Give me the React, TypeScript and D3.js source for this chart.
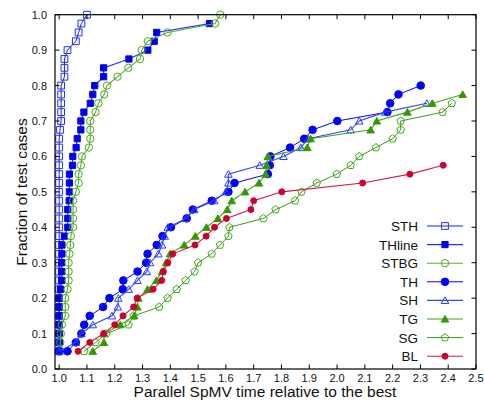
import React from 'react';
import * as d3 from 'd3';

// data: [time relative to best, fraction of test cases]
const sth: [number, number][] = [
  [1.0, 0.05], [1.0, 0.075], [1.0, 0.1], [1.0, 0.125], [1.0, 0.15], [1.0, 0.175], [1.0, 0.2],
  [1.0, 0.225], [1.0, 0.25], [1.0, 0.275], [1.0, 0.3], [1.0, 0.325], [1.0, 0.35], [1.0, 0.375],
  [1.0, 0.4], [1.0, 0.425], [1.0, 0.45], [1.0, 0.475], [1.0, 0.5], [1.0, 0.525], [1.0, 0.55],
  [1.0, 0.575], [1.0, 0.6], [1.0, 0.625], [1.0, 0.65], [1.003, 0.675], [1.007, 0.7], [1.007, 0.725],
  [1.007, 0.75], [1.007, 0.775], [1.007, 0.8], [1.019, 0.825], [1.019, 0.85], [1.019, 0.875],
  [1.03, 0.9], [1.06, 0.925], [1.07, 0.95], [1.08, 0.975], [1.1, 1.0],
];
const thline: [number, number][] = [
  [1.0, 0.05], [1.0, 0.075], [1.0, 0.1], [1.0, 0.125], [1.0, 0.15], [1.0, 0.175], [1.0, 0.2],
  [1.005, 0.225], [1.009, 0.25], [1.009, 0.275], [1.009, 0.3], [1.01, 0.325], [1.01, 0.35],
  [1.019, 0.375], [1.031, 0.4], [1.031, 0.425], [1.031, 0.45], [1.036, 0.475], [1.037, 0.5],
  [1.037, 0.525], [1.037, 0.55], [1.048, 0.575], [1.049, 0.6], [1.061, 0.625], [1.065, 0.65],
  [1.078, 0.675], [1.078, 0.7], [1.089, 0.725], [1.112, 0.75], [1.121, 0.775], [1.128, 0.8],
  [1.16, 0.825], [1.16, 0.85], [1.251, 0.875], [1.319, 0.9], [1.342, 0.925], [1.351, 0.95],
  [1.541, 0.975],
];
const stbg: [number, number][] = [
  [1.004, 0.05], [1.004, 0.075], [1.006, 0.1], [1.01, 0.125], [1.022, 0.15], [1.022, 0.175],
  [1.022, 0.2], [1.03, 0.225], [1.034, 0.25], [1.034, 0.275], [1.034, 0.3], [1.037, 0.325],
  [1.04, 0.35], [1.042, 0.375], [1.05, 0.4], [1.05, 0.425], [1.05, 0.45], [1.05, 0.475],
  [1.06, 0.5], [1.07, 0.525], [1.07, 0.55], [1.078, 0.575], [1.082, 0.6], [1.107, 0.625],
  [1.112, 0.65], [1.112, 0.675], [1.112, 0.7], [1.131, 0.725], [1.141, 0.75], [1.162, 0.775],
  [1.172, 0.8], [1.21, 0.825], [1.249, 0.85], [1.291, 0.875], [1.297, 0.9], [1.319, 0.925],
  [1.39, 0.95], [1.561, 0.975], [1.58, 1.0],
];
const th: [number, number][] = [
  [1.0, 0.05], [1.03, 0.05], [1.06, 0.075], [1.08, 0.1], [1.09, 0.125], [1.11, 0.15], [1.158, 0.175],
  [1.181, 0.2], [1.229, 0.225], [1.231, 0.25], [1.282, 0.275], [1.313, 0.3], [1.318, 0.325],
  [1.351, 0.35], [1.372, 0.375], [1.402, 0.4], [1.459, 0.425], [1.481, 0.45], [1.549, 0.475],
  [1.609, 0.5], [1.631, 0.525], [1.751, 0.55], [1.758, 0.575], [1.76, 0.6], [1.831, 0.625],
  [1.882, 0.65], [1.912, 0.675], [2.001, 0.7], [2.181, 0.725], [2.191, 0.75], [2.221, 0.775],
  [2.301, 0.8],
];
const sh: [number, number][] = [
  [1.0, 0.05], [1.06, 0.075], [1.08, 0.1], [1.121, 0.125], [1.19, 0.15], [1.211, 0.175],
  [1.213, 0.2], [1.25, 0.225], [1.282, 0.25], [1.315, 0.275], [1.327, 0.3], [1.357, 0.325],
  [1.37, 0.35], [1.38, 0.375], [1.391, 0.4], [1.457, 0.425], [1.486, 0.45], [1.558, 0.475],
  [1.6, 0.5], [1.609, 0.525], [1.609, 0.55], [1.722, 0.575], [1.807, 0.6], [1.87, 0.625],
  [1.895, 0.65], [2.049, 0.675], [2.08, 0.7], [2.173, 0.725], [2.323, 0.75],
];
const tg: [number, number][] = [
  [1.121, 0.05], [1.161, 0.075], [1.162, 0.1], [1.22, 0.125], [1.27, 0.15], [1.281, 0.175],
  [1.285, 0.2], [1.318, 0.225], [1.35, 0.25], [1.37, 0.275], [1.385, 0.3], [1.399, 0.325],
  [1.45, 0.35], [1.49, 0.375], [1.53, 0.4], [1.571, 0.425], [1.605, 0.45], [1.621, 0.475],
  [1.669, 0.5], [1.719, 0.525], [1.743, 0.55], [1.747, 0.575], [1.751, 0.6], [1.893, 0.625],
  [1.905, 0.65], [2.121, 0.675], [2.143, 0.7], [2.253, 0.725], [2.343, 0.75], [2.452, 0.775],
];
const sg: [number, number][] = [
  [1.09, 0.05], [1.131, 0.075], [1.17, 0.1], [1.25, 0.125], [1.268, 0.15], [1.36, 0.175],
  [1.39, 0.2], [1.423, 0.225], [1.455, 0.25], [1.487, 0.275], [1.5, 0.3], [1.549, 0.325],
  [1.579, 0.35], [1.609, 0.375], [1.613, 0.4], [1.735, 0.425], [1.779, 0.45], [1.849, 0.475],
  [1.872, 0.5], [1.927, 0.525], [1.999, 0.55], [2.049, 0.575], [2.08, 0.6], [2.14, 0.625],
  [2.2, 0.65], [2.229, 0.675], [2.229, 0.7], [2.38, 0.725], [2.413, 0.75],
];
const bl: [number, number][] = [
  [1.068, 0.05], [1.11, 0.075], [1.16, 0.1], [1.2, 0.125], [1.23, 0.15], [1.268, 0.175],
  [1.281, 0.2], [1.338, 0.225], [1.369, 0.25], [1.375, 0.275], [1.391, 0.3], [1.409, 0.325],
  [1.489, 0.35], [1.529, 0.375], [1.559, 0.4], [1.602, 0.425], [1.69, 0.45], [1.7, 0.475],
  [1.801, 0.5], [2.092, 0.525], [2.262, 0.55], [2.382, 0.575],
];

const seriesNames = ['STH', 'THline', 'STBG', 'TH', 'SH', 'TG', 'SG', 'BL'];
const seriesData = [sth, thline, stbg, th, sh, tg, sg, bl];
const xTicks = [1.0, 1.1, 1.2, 1.3, 1.4, 1.5, 1.6, 1.7, 1.8, 1.9, 2.0, 2.1, 2.2, 2.3, 2.4, 2.5];
const yTicks = [0, 0.1, 0.2, 0.3, 0.4, 0.5, 0.6, 0.7, 0.8, 0.9, 1.0];

type Style = { line: string; lw: number; mark: string; shape: string; filled: boolean; size: number };
const styles: Style[] = [
  { line: '#1a1aff', lw: 1, mark: '#2233ee', shape: 'square', filled: false, size: 3.4 },
  { line: '#2233ff', lw: 1.2, mark: '#0000ee', shape: 'square', filled: true, size: 3.1 },
  { line: '#5cb032', lw: 1.1, mark: '#4fa821', shape: 'circle', filled: false, size: 3.7 },
  { line: '#0000ff', lw: 1, mark: '#0000ff', shape: 'circle', filled: true, size: 3.8 },
  { line: '#3344ff', lw: 1.1, mark: '#2a3cff', shape: 'triangle', filled: false, size: 4.4 },
  { line: '#45a21c', lw: 1.1, mark: '#339900', shape: 'triangle', filled: true, size: 4.4 },
  { line: '#3d9a12', lw: 1, mark: '#44aa22', shape: 'pentagon', filled: false, size: 4 },
  { line: '#d41a4c', lw: 1.1, mark: '#cc0033', shape: 'circle', filled: true, size: 3 },
];

const markerPath = (shape: string, r: number) => {
  if (shape === 'square') return `M${-r},${-r}H${r}V${r}H${-r}Z`;
  if (shape === 'circle') return d3.symbol(d3.symbolCircle, Math.PI * r * r)() as string;
  const n = shape === 'triangle' ? 3 : 5;
  const pts = d3.range(n).map((i) => {
    const a = -Math.PI / 2 + (i * 2 * Math.PI) / n;
    return [r * Math.cos(a), r * Math.sin(a) + (n === 3 ? r * 0.2 : 0)] as [number, number];
  });
  return d3.line()(pts) + 'Z';
};

const Marker = ({ x, y, s }: { x: number; y: number; s: Style }) => (
  <path
    transform={`translate(${x},${y})`}
    d={markerPath(s.shape, s.size)}
    fill={s.filled ? s.mark : 'none'}
    stroke={s.mark}
    strokeWidth={1}
  />
);

export default function App() {
  const width = 484;
  const height = 402;
  const left = 55, right = 476, top = 14.7, bottom = 369;
  const x = d3.scaleLinear().domain([0.985, 2.5]).range([left, right]);
  const y = d3.scaleLinear().domain([0, 1]).range([bottom, top]);
  const line = d3.line<[number, number]>().x((d) => x(d[0])).y((d) => y(d[1]));
  const font = '"Liberation Sans", Arial, sans-serif';
  const legendX0 = 427, legendX1 = 463, legendTextX = 418, legendY0 = 226, legendStep = 18.6;

  return (
    <svg width={width} height={height} style={{ position: 'absolute', left: 0, top: 0, background: '#fff' }}
      fontFamily={font}>
      <rect width={width} height={height} fill="#fff" />
      {seriesData.map((data, i) => (
        <g key={seriesNames[i]}>
          <path d={line(data) as string} fill="none" stroke={styles[i].line} strokeWidth={styles[i].lw} />
          {data.map((d, j) => (
            <Marker key={j} x={x(d[0])} y={y(d[1])} s={styles[i]} />
          ))}
        </g>
      ))}

      <rect x={left} y={top} width={right - left} height={bottom - top} fill="none" stroke="#000" strokeWidth={1.2} />
      {xTicks.map((t) => (
        <g key={'x' + t}>
          <line x1={x(t)} x2={x(t)} y1={bottom} y2={bottom - 4.5} stroke="#000" />
          <line x1={x(t)} x2={x(t)} y1={top} y2={top + 4.5} stroke="#000" />
          <text x={x(t)} y={382} fontSize={11} textAnchor="middle" fill="#111">{t.toFixed(1)}</text>
        </g>
      ))}
      {yTicks.map((t) => (
        <g key={'y' + t}>
          <line x1={left} x2={left + 4.5} y1={y(t)} y2={y(t)} stroke="#000" />
          <line x1={right} x2={right - 4.5} y1={y(t)} y2={y(t)} stroke="#000" />
          <text x={47} y={y(t) + 4} fontSize={11} textAnchor="end" fill="#111">{t.toFixed(1)}</text>
        </g>
      ))}

      <text x={265} y={397} fontSize={15.5} textAnchor="middle" fill="#111">
        Parallel SpMV time relative to the best
      </text>
      <text transform="translate(27,192) rotate(-90)" fontSize={15.5} textAnchor="middle" fill="#111">
        Fraction of test cases
      </text>

      {seriesNames.map((name, i) => {
        const ly = legendY0 + i * legendStep;
        return (
          <g key={'lg' + name}>
            <text x={legendTextX} y={ly + 5} fontSize={13.5} textAnchor="end" fill="#111">{name}</text>
            <line x1={legendX0} x2={legendX1} y1={ly} y2={ly} stroke={styles[i].line} strokeWidth={styles[i].lw} />
            <Marker x={(legendX0 + legendX1) / 2} y={ly} s={styles[i]} />
          </g>
        );
      })}
    </svg>
  );
}
